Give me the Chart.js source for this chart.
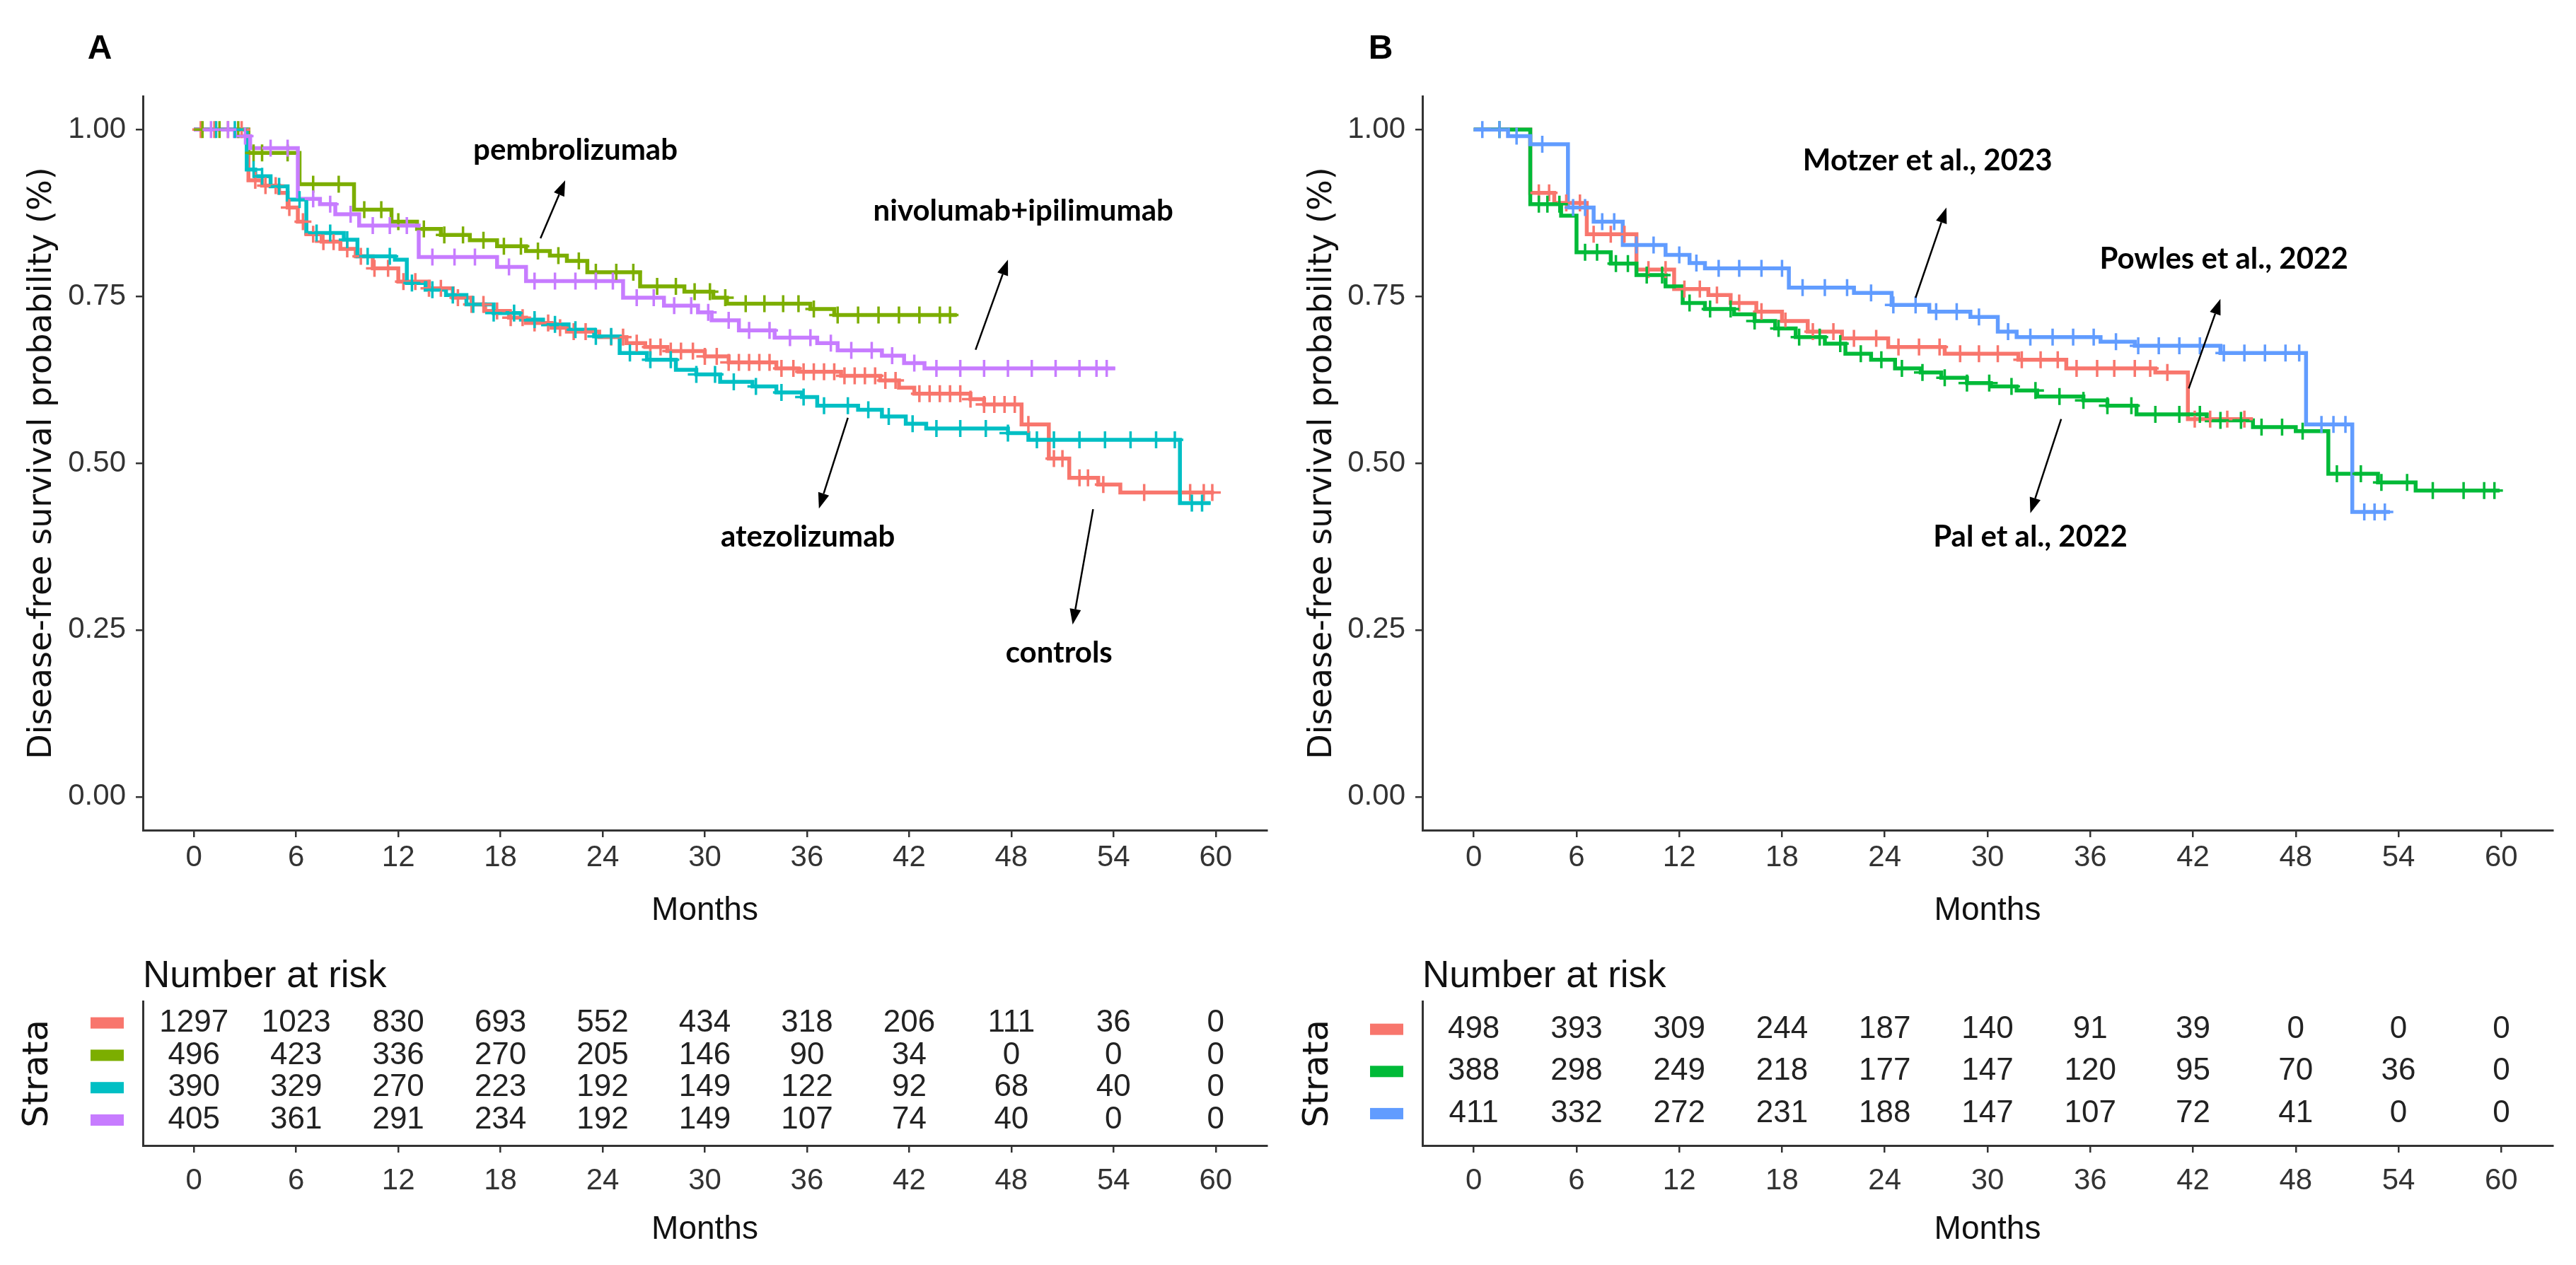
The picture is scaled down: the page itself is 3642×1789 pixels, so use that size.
<!DOCTYPE html>
<html><head><meta charset="utf-8">
<script src="https://cdn.jsdelivr.net/npm/chart.js@4.4.0/dist/chart.umd.min.js"></script>
<style>
html,body{margin:0;padding:0;background:#fff;width:3642px;height:1789px;overflow:hidden}
canvas{position:absolute}
</style></head><body>
<canvas id="kmA" width="1810" height="1330" style="left:0px;top:0px"></canvas>
<canvas id="rtA" width="1810" height="459" style="left:0px;top:1330px"></canvas>
<canvas id="kmB" width="1832" height="1330" style="left:1810px;top:0px"></canvas>
<canvas id="rtB" width="1832" height="459" style="left:1810px;top:1330px"></canvas>
<script>
// ---------- tick labels ----------
const monthTicks = [0, 6, 12, 18, 24, 30, 36, 42, 48, 54, 60];
const survTicks = [0, 0.25, 0.5, 0.75, 1];

// ---------- Panel A : KM steps (time, survival) and censor times ----------
const controlsTime = [0, 3.2, 4.0, 5.0, 5.5, 6.1, 6.6, 7.5, 8.6, 9.5, 10.5, 12.0, 13.8, 15.2, 16.3, 17.1, 18.5, 19.5, 21.0, 21.9, 23.8, 25.4, 26.5, 27.8, 30.0, 31.4, 34.2, 35.5, 38.0, 40.3, 41.4, 42.3, 45.6, 46.4, 48.6, 50.2, 51.4, 53.1, 54.4, 59.9];
const controlsSurv = [1, 0.924, 0.916, 0.905, 0.883, 0.862, 0.843, 0.832, 0.821, 0.81, 0.792, 0.772, 0.762, 0.748, 0.738, 0.728, 0.718, 0.71, 0.703, 0.697, 0.689, 0.68, 0.674, 0.668, 0.66, 0.651, 0.642, 0.637, 0.631, 0.624, 0.613, 0.604, 0.596, 0.588, 0.558, 0.507, 0.478, 0.468, 0.456, 0.456];
const controlsCens = [0.4, 1.2, 2.0, 2.8, 3.6, 4.2, 4.8, 5.6, 6.4, 7.0, 7.6, 8.2, 9.0, 9.8, 10.6, 11.4, 12.3, 13.0, 13.8, 14.5, 15.5, 16.3, 17.0, 17.8, 18.6, 19.3, 20.0, 20.8, 21.5, 22.3, 23.0, 24.5, 25.2, 26.0, 26.8, 27.4, 28.0, 28.6, 29.3, 30.0, 30.7, 31.4, 32.0, 32.6, 33.2, 33.8, 34.5, 35.2, 35.8, 36.4, 37.0, 37.6, 38.2, 38.8, 39.4, 40.0, 40.6, 41.2, 42.6, 43.2, 43.8, 44.4, 45.0, 45.6, 46.4, 47.0, 47.6, 48.2, 49.0, 50.5, 51.0, 52.0, 52.5, 53.4, 55.8, 58.5, 59.3, 59.8];

const pembroTime = [0, 3.2, 6.2, 9.4, 11.6, 13.1, 14.5, 16.2, 17.8, 19.5, 20.9, 21.9, 23.1, 26.2, 28.8, 30.5, 31.3, 36.2, 37.6, 44.8];
const pembroSurv = [1, 0.965, 0.918, 0.88, 0.862, 0.851, 0.842, 0.834, 0.825, 0.818, 0.811, 0.803, 0.786, 0.765, 0.757, 0.748, 0.739, 0.731, 0.722, 0.722];
const pembroCens = [0.5, 1.5, 2.6, 3.5, 4.0, 5.5, 7.0, 8.5, 10.0, 11.0, 12.0, 13.5, 14.7, 15.8, 17.0, 18.2, 19.2, 20.2, 21.4, 22.6, 23.6, 24.8, 25.8, 27.2, 28.3, 29.4, 30.3, 31.2, 32.4, 33.5, 34.6, 35.5, 36.4, 37.8, 39.0, 40.2, 41.4, 42.6, 43.8, 44.4];

const atezoTime = [0, 3.1, 3.6, 4.5, 5.5, 6.6, 8.8, 9.6, 11.8, 12.5, 13.6, 14.8, 16.0, 17.6, 19.2, 20.5, 22.0, 23.5, 25.0, 26.6, 28.3, 29.5, 30.9, 32.8, 34.2, 35.7, 36.6, 39.0, 40.4, 41.8, 43.0, 47.8, 49.0, 57.9, 59.7];
const atezoSurv = [1, 0.94, 0.93, 0.915, 0.895, 0.845, 0.835, 0.81, 0.805, 0.77, 0.76, 0.752, 0.738, 0.725, 0.715, 0.708, 0.70, 0.69, 0.665, 0.655, 0.64, 0.633, 0.622, 0.615, 0.606, 0.599, 0.586, 0.58, 0.57, 0.559, 0.552, 0.545, 0.535, 0.44, 0.44];
const atezoCens = [1.3, 2.4, 3.5, 4.0, 5.0, 6.2, 7.2, 8.0, 9.0, 10.2, 11.5, 12.8, 14.0, 15.2, 16.4, 17.6, 18.8, 20.0, 21.2, 22.4, 23.6, 24.5, 25.6, 26.8, 28.0, 29.5, 30.6, 31.7, 33.0, 34.5, 35.8, 37.0, 38.4, 39.6, 40.8, 42.2, 43.6, 45.0, 46.5, 47.8, 49.5, 50.5, 52.0, 53.5, 55.0, 56.5, 57.6, 58.6, 59.2];

const nivoTime = [0, 2.4, 3.3, 6.1, 7.4, 8.3, 9.7, 13.2, 17.8, 19.5, 25.2, 27.6, 29.6, 30.4, 32.0, 34.1, 36.6, 37.8, 40.4, 41.7, 42.9, 54.1];
const nivoSurv = [1, 0.99, 0.972, 0.896, 0.888, 0.873, 0.856, 0.809, 0.794, 0.773, 0.748, 0.736, 0.726, 0.714, 0.699, 0.688, 0.68, 0.669, 0.661, 0.65, 0.642, 0.642];
const nivoCens = [1.0, 2.0, 3.0, 4.5, 5.5, 7.0, 8.0, 9.2, 10.5, 11.5, 12.5, 14.0, 15.3, 16.5, 18.5, 20.0, 21.2, 22.4, 23.6, 24.6, 26.0, 27.0, 28.2, 29.2, 30.2, 31.4, 32.6, 33.8, 35.0, 36.2, 37.4, 38.6, 39.8, 41.0, 42.3, 43.6, 45.0, 46.4, 47.8, 49.2, 50.6, 52.0, 53.0, 53.6];

// ---------- Panel B ----------
const powlesTime = [0, 3.3, 4.7, 6.6, 9.5, 11.7, 13.7, 15.0, 16.5, 18.0, 19.5, 21.5, 24.2, 27.5, 31.8, 34.6, 39.8, 41.7, 45.5];
const powlesSurv = [1, 0.905, 0.89, 0.843, 0.79, 0.761, 0.752, 0.74, 0.727, 0.713, 0.697, 0.687, 0.674, 0.664, 0.655, 0.642, 0.636, 0.566, 0.566];
const powlesCens = [3.8, 4.4, 5.4, 6.2, 7.0, 8.0, 8.8, 10.2, 11.2, 12.3, 13.2, 14.2, 15.5, 16.8, 18.2, 19.8, 21.0, 22.2, 23.5, 24.8, 26.0, 27.2, 28.4, 29.5, 30.6, 32.0, 33.1, 34.1, 35.2, 36.4, 37.4, 38.6, 39.5, 40.5, 42.1, 43.0, 44.0, 45.0];

const palTime = [0, 3.3, 5.1, 6.0, 8.0, 9.5, 11.2, 12.2, 13.5, 15.2, 16.4, 17.6, 18.8, 20.5, 21.7, 23.2, 24.6, 26.1, 27.3, 28.8, 30.2, 31.7, 32.9, 35.6, 37.0, 38.7, 42.8, 45.5, 48.0, 49.9, 52.8, 55.0, 59.9];
const palSurv = [1, 0.888, 0.871, 0.816, 0.799, 0.782, 0.765, 0.74, 0.731, 0.723, 0.713, 0.702, 0.689, 0.679, 0.664, 0.655, 0.642, 0.636, 0.628, 0.62, 0.615, 0.609, 0.60, 0.594, 0.586, 0.573, 0.564, 0.554, 0.548, 0.484, 0.471, 0.459, 0.459];
const palCens = [1.5, 3.8, 4.3, 5.0, 6.5, 7.2, 8.3, 9.0, 10.1, 11.0, 12.6, 13.8, 15.0, 16.4, 17.8, 19.0, 20.2, 21.4, 22.6, 23.8, 25.0, 26.2, 27.5, 28.8, 30.1, 31.4, 32.8, 34.2, 35.6, 37.0, 38.4, 39.8, 41.2, 42.4, 43.6, 44.8, 46.0, 47.2, 48.4, 50.4, 51.8, 53.0, 54.5, 56.0, 57.8, 59.0, 59.6];

const motzerTime = [0, 2.0, 3.3, 5.5, 7.0, 8.7, 11.2, 12.6, 13.5, 18.4, 22.2, 24.4, 26.6, 29.0, 30.6, 31.7, 36.6, 38.6, 43.6, 48.6, 51.3, 53.5];
const motzerSurv = [1, 0.99, 0.978, 0.883, 0.862, 0.827, 0.812, 0.80, 0.792, 0.763, 0.755, 0.737, 0.727, 0.719, 0.697, 0.689, 0.682, 0.676, 0.665, 0.558, 0.427, 0.427];
const motzerCens = [0.5, 1.5, 2.5, 4.0, 5.8, 6.5, 7.5, 8.2, 9.5, 10.5, 12.0, 13.0, 14.3, 15.5, 16.8, 18.0, 19.2, 20.5, 21.8, 23.2, 24.5, 25.8, 27.0, 28.2, 29.5, 31.2, 32.5, 33.8, 35.0, 36.2, 37.5, 38.8, 40.0, 41.2, 42.4, 43.8, 45.0, 46.2, 47.4, 48.2, 49.5, 50.2, 50.9, 52.0, 52.6, 53.2];

// ---------- Number at risk ----------
const riskControls = [1297, 1023, 830, 693, 552, 434, 318, 206, 111, 36, 0];
const riskPembro   = [496, 423, 336, 270, 205, 146, 90, 34, 0, 0, 0];
const riskAtezo    = [390, 329, 270, 223, 192, 149, 122, 92, 68, 40, 0];
const riskNivo     = [405, 361, 291, 234, 192, 149, 107, 74, 40, 0, 0];
const riskPowles   = [498, 393, 309, 244, 187, 140, 91, 39, 0, 0, 0];
const riskPal      = [388, 298, 249, 218, 177, 147, 120, 95, 70, 36, 0];
const riskMotzer   = [411, 332, 272, 231, 188, 147, 107, 72, 41, 0, 0];

// ---------- helpers ----------
const TICK_FONT = "'Liberation Sans', Arial, sans-serif";
function stepValue(times, surv, t) {
  let v = surv[0];
  for (let i = 0; i < times.length; i++) { if (times[i] <= t) v = surv[i]; else break; }
  return v;
}
function curvePts(times, surv) { return times.map((t, i) => ({x: t, y: surv[i]})); }
function censPts(times, surv, cens) { return cens.map(t => ({x: t, y: stepValue(times, surv, t)})); }

const panelLabel = {
  id: 'panelLabel',
  afterDraw(chart, args, o) {
    const ctx = chart.ctx; ctx.save();
    ctx.font = "bold 48px 'Liberation Sans', Arial, sans-serif";
    ctx.fillStyle = '#000'; ctx.textAlign = 'center'; ctx.textBaseline = 'middle';
    ctx.fillText(o.text, o.x, o.y);
    ctx.restore();
  }
};
const kmAnnot = {
  id: 'kmAnnot',
  afterDatasetsDraw(chart, args, o) {
    const {ctx, scales: {x, y}} = chart;
    ctx.save();
    ctx.fillStyle = '#000'; ctx.strokeStyle = '#000'; ctx.lineWidth = 2.5;
    (o.items || []).forEach(a => {
      const x1 = x.getPixelForValue(a.from[0]), y1 = y.getPixelForValue(a.from[1]);
      const x2 = x.getPixelForValue(a.to[0]), y2 = y.getPixelForValue(a.to[1]);
      const ang = Math.atan2(y2 - y1, x2 - x1), hl = 22, hw = 8;
      const bx = x2 - hl * Math.cos(ang), by = y2 - hl * Math.sin(ang);
      ctx.beginPath(); ctx.moveTo(x1, y1); ctx.lineTo(bx, by); ctx.stroke();
      ctx.beginPath(); ctx.moveTo(x2, y2);
      ctx.lineTo(bx + hw * Math.sin(ang), by - hw * Math.cos(ang));
      ctx.lineTo(bx - hw * Math.sin(ang), by + hw * Math.cos(ang));
      ctx.closePath(); ctx.fill();
      ctx.font = "bold 42px Lato, 'Open Sans', sans-serif";
      ctx.textAlign = 'center'; ctx.textBaseline = 'middle';
      ctx.fillText(a.text, x.getPixelForValue(a.at[0]), y.getPixelForValue(a.at[1]));
    });
    ctx.restore();
  }
};
const riskText = {
  id: 'riskText',
  afterDatasetsDraw(chart) {
    const ctx = chart.ctx; ctx.save();
    ctx.font = "44px " + TICK_FONT; ctx.fillStyle = '#222';
    ctx.textAlign = 'center'; ctx.textBaseline = 'middle';
    chart.data.datasets.forEach((ds, i) => {
      chart.getDatasetMeta(i).data.forEach((el, j) => ctx.fillText(String(ds.data[j].n), el.x, el.y));
    });
    ctx.restore();
  }
};
const strataKeys = {
  id: 'strataKeys',
  afterDraw(chart) {
    const {ctx, chartArea, scales: {y}} = chart; ctx.save();
    chart.data.datasets.forEach((ds, i) => {
      const py = y.getPixelForValue(i + 1);
      ctx.fillStyle = ds.keyColor;
      ctx.fillRect(chartArea.left - 74, py - 8, 47, 16);
    });
    ctx.restore();
  }
};

function axisX(titlePadBottom, tickPad, height) {
  return {
    type: 'linear', min: -3, max: 63,
    afterBuildTicks: sc => { sc.ticks = monthTicks.map(v => ({value: v})); },
    afterFit: sc => { sc.height = height; },
    grid: {display: true, drawOnChartArea: false, drawTicks: true, tickLength: 10, color: '#333', lineWidth: 2.5},
    border: {display: true, color: '#333', width: 3},
    ticks: {font: {family: TICK_FONT, size: 42}, color: '#333', padding: tickPad, maxRotation: 0, autoSkip: false},
    title: {display: true, text: 'Months', font: {family: TICK_FONT, size: 46}, color: '#111', padding: {top: 0, bottom: titlePadBottom}}
  };
}

function kmChart(id, strata, annots, label, yw, right) {
  const datasets = [];
  strata.forEach((s, i) => {
    datasets.push({data: curvePts(s.t, s.s), showLine: true, stepped: 'before', borderColor: s.color, borderWidth: 5.5, pointRadius: 0, order: 20 - i});
    datasets.push({data: censPts(s.t, s.s, s.c), showLine: false, pointStyle: 'cross', pointRadius: 12, borderColor: s.color, borderWidth: 3.5, order: 10 - i});
  });
  return new Chart(document.getElementById(id), {
    type: 'scatter',
    data: {datasets},
    options: {
      responsive: false, animation: false, devicePixelRatio: 1, events: [],
      layout: {padding: {left: 0, top: 136, right: right, bottom: 0}},
      plugins: {legend: {display: false}, tooltip: {enabled: false},
        kmAnnot: {items: annots}, panelLabel: label},
      scales: {
        x: axisX(14, 4, 156),
        y: {
          type: 'linear', min: -0.05, max: 1.05,
          afterBuildTicks: sc => { sc.ticks = survTicks.map(v => ({value: v})); },
          afterFit: sc => { sc.width = yw; },
          grid: {display: true, drawOnChartArea: false, drawTicks: true, tickLength: 10, color: '#333', lineWidth: 2.5},
          border: {display: true, color: '#333', width: 3},
          ticks: {font: {family: TICK_FONT, size: 42}, color: '#333', padding: 14, callback: v => Number(v).toFixed(2)},
          title: {display: true, text: 'Disease-free survival probability (%)', font: {family: "'DejaVu Sans', sans-serif", size: 46}, color: '#111', padding: {top: 32, bottom: 0}}
        }
      }
    },
    plugins: [kmAnnot, panelLabel]
  });
}

function riskChart(id, rows, yw, right, ymin, ymax) {
  const datasets = rows.map((r, i) => ({
    data: monthTicks.map((m, j) => ({x: m, y: i + 1, n: r.values[j]})),
    keyColor: r.color, showLine: false, pointRadius: 0
  }));
  return new Chart(document.getElementById(id), {
    type: 'scatter',
    data: {datasets},
    options: {
      responsive: false, animation: false, devicePixelRatio: 1, events: [],
      layout: {padding: {left: 0, top: 0, right: right, bottom: 0}},
      plugins: {legend: {display: false}, tooltip: {enabled: false},
        title: {display: true, text: 'Number at risk', align: 'start', fullSize: false,
          font: {family: TICK_FONT, size: 53, weight: 'normal'}, color: '#111', padding: {top: 20, bottom: 3}}},
      scales: {
        x: axisX(22, 15, 169),
        y: {
          type: 'linear', reverse: true, min: ymin, max: ymax,
          afterFit: sc => { sc.width = yw; },
          grid: {display: false},
          border: {display: true, color: '#333', width: 3},
          ticks: {display: false},
          title: {display: true, text: 'Strata', font: {family: "'DejaVu Sans', sans-serif", size: 50}, color: '#111', padding: {top: 24, bottom: 0}}
        }
      }
    },
    plugins: [riskText, strataKeys]
  });
}

// ---------- Panel A ----------
kmChart('kmA', [
  {t: controlsTime, s: controlsSurv, c: controlsCens, color: '#F8766D'},
  {t: pembroTime, s: pembroSurv, c: pembroCens, color: '#7CAE00'},
  {t: atezoTime, s: atezoSurv, c: atezoCens, color: '#00BFC4'},
  {t: nivoTime, s: nivoSurv, c: nivoCens, color: '#C77CFF'}
], [
  {text: 'pembrolizumab', at: [22.4, 0.969], from: [20.35, 0.837], to: [21.8, 0.924]},
  {text: 'nivolumab+ipilimumab', at: [48.7, 0.878], from: [45.9, 0.670], to: [47.8, 0.805]},
  {text: 'atezolizumab', at: [36.05, 0.389], from: [38.4, 0.568], to: [36.7, 0.432]},
  {text: 'controls', at: [50.8, 0.216], from: [52.8, 0.431], to: [51.6, 0.258]}
], {text: 'A', x: 141, y: 70}, 202, 19);

riskChart('rtA', [
  {values: riskControls, color: '#F8766D'},
  {values: riskPembro, color: '#7CAE00'},
  {values: riskAtezo, color: '#00BFC4'},
  {values: riskNivo, color: '#C77CFF'}
], 202, 19, 0.344, 4.786);

// ---------- Panel B ----------
kmChart('kmB', [
  {t: powlesTime, s: powlesSurv, c: powlesCens, color: '#F8766D'},
  {t: palTime, s: palSurv, c: palCens, color: '#00BA38'},
  {t: motzerTime, s: motzerSurv, c: motzerCens, color: '#619CFF'}
], [
  {text: 'Motzer et al., 2023', at: [26.5, 0.953], from: [25.8, 0.748], to: [27.6, 0.883]},
  {text: 'Powles et al., 2022', at: [43.8, 0.806], from: [41.75, 0.612], to: [43.6, 0.746]},
  {text: 'Pal et al., 2022', at: [32.5, 0.389], from: [34.3, 0.566], to: [32.5, 0.425]}
], {text: 'B', x: 142, y: 70}, 201, 33);

riskChart('rtB', [
  {values: riskPowles, color: '#F8766D'},
  {values: riskPal, color: '#00BA38'},
  {values: riskMotzer, color: '#619CFF'}
], 201, 33, 0.345, 3.756);
</script>
</body></html>
